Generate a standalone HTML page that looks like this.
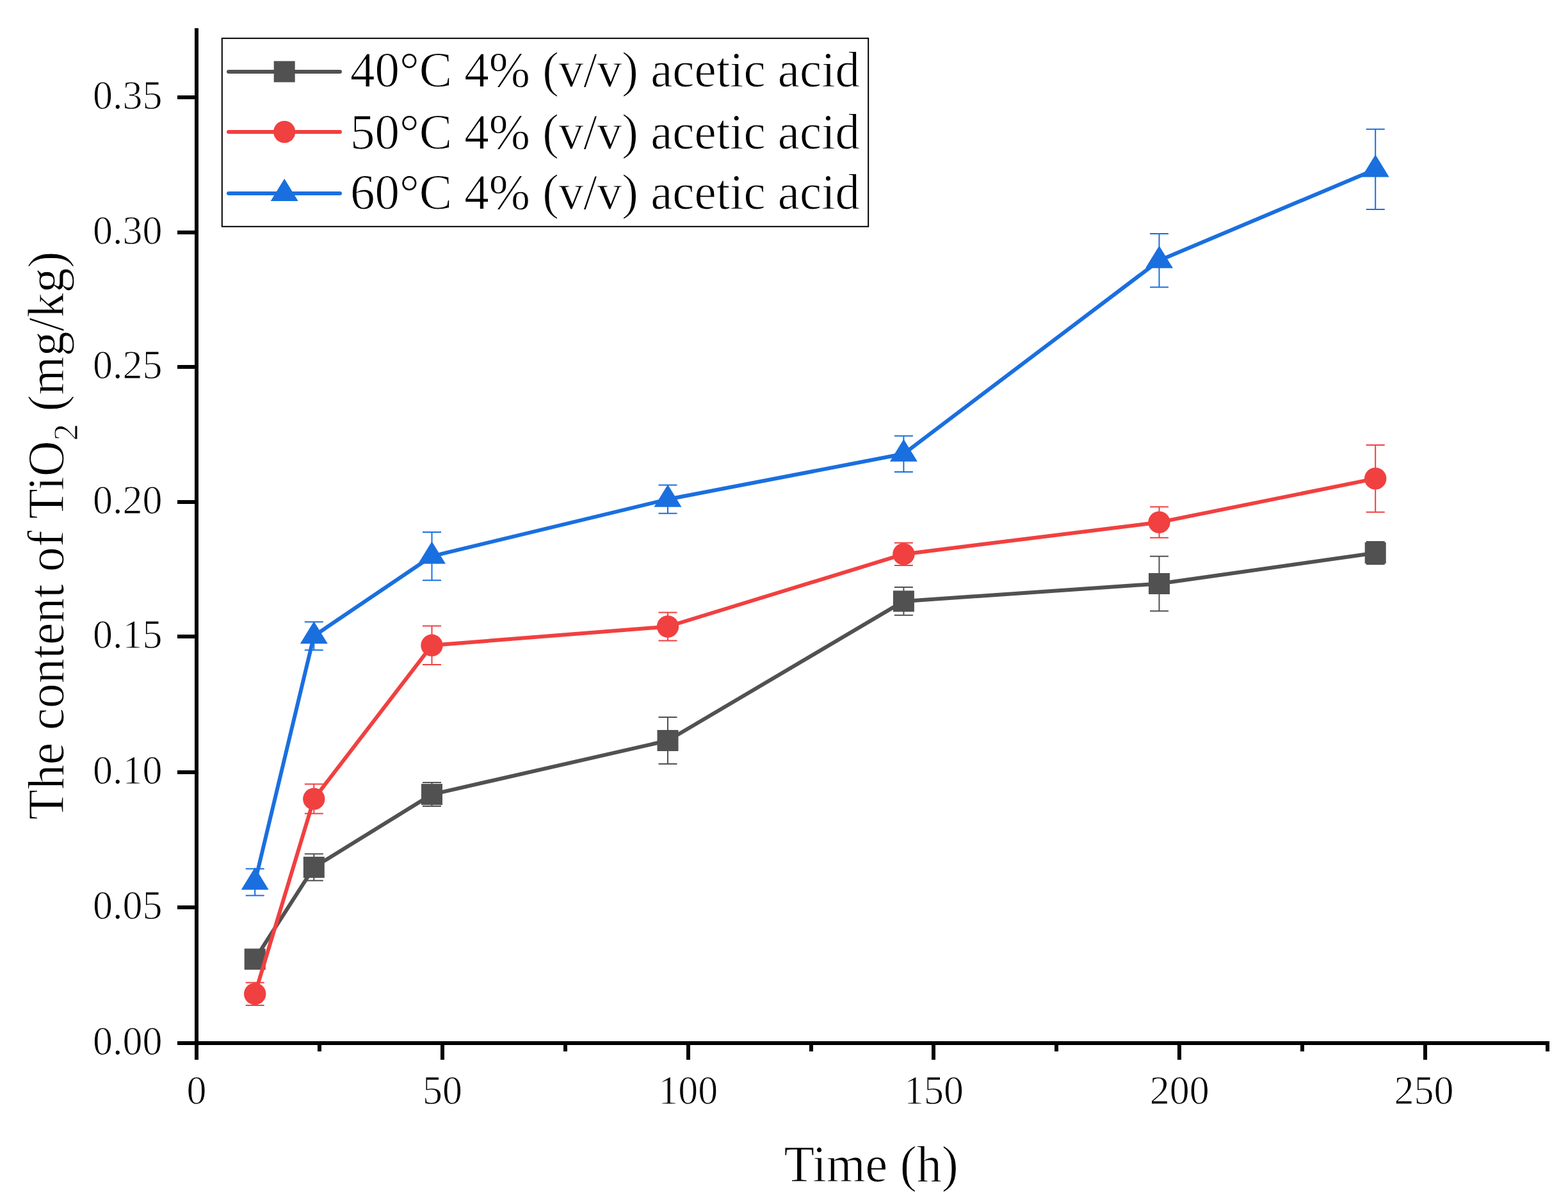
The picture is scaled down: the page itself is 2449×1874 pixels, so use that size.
<!DOCTYPE html>
<html><head><meta charset="utf-8"><title>TiO2 content vs time</title>
<style>html,body{margin:0;padding:0;background:#fff;}body{width:2449px;height:1874px;overflow:hidden;}svg{display:block;}text{font-family:"Liberation Serif","Times New Roman",serif;fill:#000;stroke:#fff;stroke-width:1px;}</style>
</head><body>
<svg width="2449" height="1874" viewBox="0 0 2449 1874">
<rect width="2449" height="1874" fill="#fff"/>
<g fill="#000" shape-rendering="crispEdges">
<rect x="304" y="44" width="6" height="1588"/>
<rect x="277" y="1626" width="2143" height="6"/>
<rect x="277" y="1625.9" width="30" height="6"/>
<rect x="277" y="1414.3" width="30" height="6"/>
<rect x="277" y="1202.8" width="30" height="6"/>
<rect x="277" y="991.2" width="30" height="6"/>
<rect x="277" y="780.7" width="30" height="6"/>
<rect x="277" y="570.2" width="30" height="6"/>
<rect x="277" y="359.7" width="30" height="6"/>
<rect x="277" y="148.8" width="30" height="6"/>
<rect x="304.1" y="1629" width="6" height="26"/>
<rect x="496" y="1629" width="6" height="13"/>
<rect x="687.9" y="1629" width="6" height="26"/>
<rect x="879.8" y="1629" width="6" height="13"/>
<rect x="1071.7" y="1629" width="6" height="26"/>
<rect x="1263.6" y="1629" width="6" height="13"/>
<rect x="1455.4" y="1629" width="6" height="26"/>
<rect x="1647.3" y="1629" width="6" height="13"/>
<rect x="1839.2" y="1629" width="6" height="26"/>
<rect x="2031.1" y="1629" width="6" height="13"/>
<rect x="2223" y="1629" width="6" height="26"/>
<rect x="2413.7" y="1629" width="6" height="13"/>
</g>
<g font-size="62">
<text transform="translate(253.5 1646.9) scale(1 1.025)" text-anchor="end">0.00</text>
<text transform="translate(253.5 1435.3) scale(1 1.025)" text-anchor="end">0.05</text>
<text transform="translate(253.5 1223.8) scale(1 1.025)" text-anchor="end">0.10</text>
<text transform="translate(253.5 1012.2) scale(1 1.025)" text-anchor="end">0.15</text>
<text transform="translate(253.5 801.7) scale(1 1.025)" text-anchor="end">0.20</text>
<text transform="translate(253.5 591.2) scale(1 1.025)" text-anchor="end">0.25</text>
<text transform="translate(253.5 380.7) scale(1 1.025)" text-anchor="end">0.30</text>
<text transform="translate(253.5 169.8) scale(1 1.025)" text-anchor="end">0.35</text>
<text transform="translate(307.1 1723.5) scale(1 1.025)" text-anchor="middle">0</text>
<text transform="translate(690.9 1723.5) scale(1 1.025)" text-anchor="middle">50</text>
<text transform="translate(1074.7 1723.5) scale(1 1.025)" text-anchor="middle">100</text>
<text transform="translate(1458.4 1723.5) scale(1 1.025)" text-anchor="middle">150</text>
<text transform="translate(1842.2 1723.5) scale(1 1.025)" text-anchor="middle">200</text>
<text transform="translate(2224 1723.5) scale(1 1.025)" text-anchor="middle">250</text>
</g>
<text transform="translate(1360.5 1845.2) scale(1 1.03)" font-size="78" text-anchor="middle">Time (h)</text>
<text transform="translate(98.5 836.5) rotate(-90) scale(1 1.03)" font-size="77.5" text-anchor="middle">The content of TiO<tspan font-size="53" dy="22">2</tspan><tspan dy="-22"> (mg/kg)</tspan></text>
<path d="M490.3 1333.5V1375.3M475.8 1333.5H504.8M475.8 1375.3H504.8" stroke="#515151" stroke-width="2" fill="none"/>
<path d="M674.5 1222.1V1259.1M660 1222.1H689M660 1259.1H689" stroke="#515151" stroke-width="2" fill="none"/>
<path d="M1043 1119.9V1193.1M1028.5 1119.9H1057.5M1028.5 1193.1H1057.5" stroke="#515151" stroke-width="2" fill="none"/>
<path d="M1411.4 917V960.8M1396.9 917H1425.9M1396.9 960.8H1425.9" stroke="#515151" stroke-width="2" fill="none"/>
<path d="M1810.5 868.7V954.3M1796 868.7H1825M1796 954.3H1825" stroke="#515151" stroke-width="2" fill="none"/>
<path d="M2148.2 845.9V881.1M2133.7 845.9H2162.7M2133.7 881.1H2162.7" stroke="#515151" stroke-width="2" fill="none"/>
<polyline points="398.2,1497.9 490.3,1354.4 674.5,1240.6 1043,1156.5 1411.4,938.9 1810.5,911.5 2148.2,863.5" fill="none" stroke="#515151" stroke-width="6" stroke-linejoin="round"/>
<rect x="381.7" y="1481.4" width="33" height="33" fill="#515151"/>
<rect x="473.8" y="1337.9" width="33" height="33" fill="#515151"/>
<rect x="658" y="1224.1" width="33" height="33" fill="#515151"/>
<rect x="1026.5" y="1140" width="33" height="33" fill="#515151"/>
<rect x="1394.9" y="922.4" width="33" height="33" fill="#515151"/>
<rect x="1794" y="895" width="33" height="33" fill="#515151"/>
<rect x="2131.7" y="847" width="33" height="33" fill="#515151"/>
<path d="M398.2 1534.4V1570M383.7 1534.4H412.7M383.7 1570H412.7" stroke="#F14040" stroke-width="2" fill="none"/>
<path d="M490.3 1224.6V1270.6M475.8 1224.6H504.8M475.8 1270.6H504.8" stroke="#F14040" stroke-width="2" fill="none"/>
<path d="M674.5 977.5V1038.1M660 977.5H689M660 1038.1H689" stroke="#F14040" stroke-width="2" fill="none"/>
<path d="M1043 956.5V1000.5M1028.5 956.5H1057.5M1028.5 1000.5H1057.5" stroke="#F14040" stroke-width="2" fill="none"/>
<path d="M1411.4 847.7V883.1M1396.9 847.7H1425.9M1396.9 883.1H1425.9" stroke="#F14040" stroke-width="2" fill="none"/>
<path d="M1810.5 791.4V839.8M1796 791.4H1825M1796 839.8H1825" stroke="#F14040" stroke-width="2" fill="none"/>
<path d="M2148.2 695V799.8M2133.7 695H2162.7M2133.7 799.8H2162.7" stroke="#F14040" stroke-width="2" fill="none"/>
<polyline points="398.2,1552.2 490.3,1247.6 674.5,1007.8 1043,978.5 1411.4,865.4 1810.5,815.6 2148.2,747.4" fill="none" stroke="#F14040" stroke-width="6" stroke-linejoin="round"/>
<circle cx="398.2" cy="1552.2" r="17.2" fill="#F14040"/>
<circle cx="490.3" cy="1247.6" r="17.2" fill="#F14040"/>
<circle cx="674.5" cy="1007.8" r="17.2" fill="#F14040"/>
<circle cx="1043" cy="978.5" r="17.2" fill="#F14040"/>
<circle cx="1411.4" cy="865.4" r="17.2" fill="#F14040"/>
<circle cx="1810.5" cy="815.6" r="17.2" fill="#F14040"/>
<circle cx="2148.2" cy="747.4" r="17.2" fill="#F14040"/>
<path d="M398.2 1356.7V1398.5M383.7 1356.7H412.7M383.7 1398.5H412.7" stroke="#1A6FDF" stroke-width="2" fill="none"/>
<path d="M490.3 971.2V1015.2M475.8 971.2H504.8M475.8 1015.2H504.8" stroke="#1A6FDF" stroke-width="2" fill="none"/>
<path d="M674.5 830.9V906.3M660 830.9H689M660 906.3H689" stroke="#1A6FDF" stroke-width="2" fill="none"/>
<path d="M1043 757.6V801.8M1028.5 757.6H1057.5M1028.5 801.8H1057.5" stroke="#1A6FDF" stroke-width="2" fill="none"/>
<path d="M1411.4 680.7V736.9M1396.9 680.7H1425.9M1396.9 736.9H1425.9" stroke="#1A6FDF" stroke-width="2" fill="none"/>
<path d="M1810.5 365V448.6M1796 365H1825M1796 448.6H1825" stroke="#1A6FDF" stroke-width="2" fill="none"/>
<path d="M2148.2 201.8V327M2133.7 201.8H2162.7M2133.7 327H2162.7" stroke="#1A6FDF" stroke-width="2" fill="none"/>
<polyline points="398.2,1377.6 490.3,993.2 674.5,868.6 1043,779.7 1411.4,708.8 1810.5,406.8 2148.2,264.4" fill="none" stroke="#1A6FDF" stroke-width="6" stroke-linejoin="round"/>
<polygon points="398.2,1354.6 419.7,1389.6 376.7,1389.6" fill="#1A6FDF"/>
<polygon points="490.3,970.2 511.8,1005.2 468.8,1005.2" fill="#1A6FDF"/>
<polygon points="674.5,845.6 696,880.6 653,880.6" fill="#1A6FDF"/>
<polygon points="1043,756.7 1064.5,791.7 1021.5,791.7" fill="#1A6FDF"/>
<polygon points="1411.4,685.8 1432.9,720.8 1389.9,720.8" fill="#1A6FDF"/>
<polygon points="1810.5,383.8 1832,418.8 1789,418.8" fill="#1A6FDF"/>
<polygon points="2148.2,241.4 2169.7,276.4 2126.7,276.4" fill="#1A6FDF"/>
<rect x="346.8" y="59.8" width="1009.4" height="294" fill="none" stroke="#000" stroke-width="2"/>
<line x1="357" y1="111.9" x2="531" y2="111.9" stroke="#515151" stroke-width="6" stroke-linecap="round"/>
<rect x="427.7" y="95.4" width="33" height="33" fill="#515151"/>
<text transform="translate(547 135.4) scale(1 1.025)" font-size="77">40&#176;C 4% (v/v) acetic acid</text>
<line x1="357" y1="206" x2="531" y2="206" stroke="#F14040" stroke-width="6" stroke-linecap="round"/>
<circle cx="444.2" cy="206" r="17.2" fill="#F14040"/>
<text transform="translate(547 231.8) scale(1 1.025)" font-size="77">50&#176;C 4% (v/v) acetic acid</text>
<line x1="357" y1="302" x2="531" y2="302" stroke="#1A6FDF" stroke-width="6" stroke-linecap="round"/>
<polygon points="444.2,279 465.7,314 422.7,314" fill="#1A6FDF"/>
<text transform="translate(547 325.9) scale(1 1.025)" font-size="77">60&#176;C 4% (v/v) acetic acid</text>
</svg>
</body></html>
